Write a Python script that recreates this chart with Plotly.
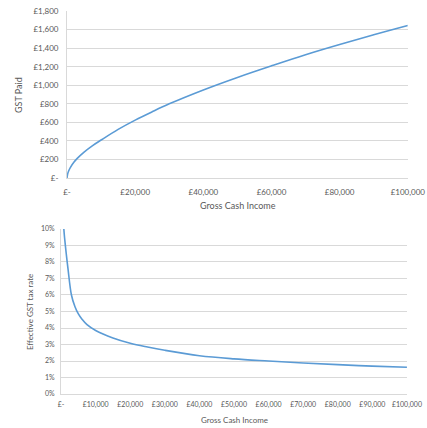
import plotly.graph_objects as go

# Top chart: GST paid vs gross cash income
income_top = [0, 200, 500, 1000, 2000, 3000, 5000, 7500, 10000, 15000, 20000, 25000, 30000,
              40000, 50000, 60000, 70000, 80000, 90000, 100000]
gst_paid = [0, 48, 79, 116, 170, 212, 280, 350, 410, 525, 625, 715, 800,
            950, 1085, 1210, 1330, 1440, 1545, 1645]

# Bottom chart: effective GST tax rate
income_bot = [800, 1000, 1500, 2000, 3000, 4000, 5000, 6000, 7500, 10000, 15000, 20000, 25000,
              30000, 40000, 50000, 60000, 70000, 80000, 90000, 100000]
eff_rate = [0.100, 0.095, 0.085, 0.076, 0.060, 0.053, 0.0485, 0.0455, 0.042, 0.0385, 0.034, 0.0308, 0.0285,
            0.0265, 0.0232, 0.0213, 0.0200, 0.0188, 0.0178, 0.0169, 0.0162]

top_x_ticks = [0, 20000, 40000, 60000, 80000, 100000]
top_x_labels = ["£-", "£20,000", "£40,000", "£60,000", "£80,000", "£100,000"]
top_y_ticks = [0, 200, 400, 600, 800, 1000, 1200, 1400, 1600, 1800]
top_y_labels = ["£-", "£200", "£400", "£600", "£800", "£1,000", "£1,200", "£1,400", "£1,600", "£1,800"]
bot_x_ticks = list(range(0, 100001, 10000))
bot_x_labels = ["£-", "£10,000", "£20,000", "£30,000", "£40,000", "£50,000", "£60,000",
                "£70,000", "£80,000", "£90,000", "£100,000"]
bot_y_ticks = [i / 100 for i in range(0, 11)]
bot_y_labels = [f"{i}%" for i in range(0, 11)]

LINE = "#5B9BD5"
GRID = "#D9D9D9"
TXT = "#595959"
FONT = "Lato, Carlito, Liberation Sans, sans-serif"

fig = go.Figure()
fig.add_trace(go.Scatter(x=income_top, y=gst_paid, mode="lines",
                         line=dict(color=LINE, width=1.6, shape="spline", smoothing=1.0),
                         xaxis="x", yaxis="y", showlegend=False))
fig.add_trace(go.Scatter(x=income_bot, y=eff_rate, mode="lines",
                         line=dict(color=LINE, width=1.6, shape="spline", smoothing=1.0),
                         xaxis="x2", yaxis="y2", showlegend=False))

ax_common = dict(showgrid=False, zeroline=False, showline=True, linecolor=GRID, linewidth=1,
                 ticks="", automargin=False, tickfont=dict(family=FONT, size=8, color=TXT))
fig.update_layout(
    width=427, height=428,
    margin=dict(l=0, r=0, t=0, b=0, autoexpand=False),
    paper_bgcolor="white", plot_bgcolor="white",
    font=dict(family=FONT, color=TXT),
    xaxis=dict(**ax_common, domain=[0.157, 0.955], range=[0, 100000], tickvals=top_x_ticks,
               ticktext=top_x_labels, anchor="y", ticklabelstandoff=6),
    yaxis=dict(**{**ax_common, "showgrid": True, "gridcolor": GRID}, domain=[0.584, 0.974],
               range=[0, 1800], tickvals=top_y_ticks, ticktext=top_y_labels, anchor="x",
               ticklabelstandoff=6),
    xaxis2=dict(**{**ax_common, "tickfont": dict(family=FONT, size=7, color=TXT)}, domain=[0.143, 0.953],
                range=[0, 100000], tickvals=bot_x_ticks, ticktext=bot_x_labels, anchor="y2",
                ticklabelstandoff=4),
    yaxis2=dict(**{**ax_common, "showgrid": True, "gridcolor": GRID, "tickfont": dict(family=FONT, size=7, color=TXT)},
                domain=[0.0794, 0.465], range=[0, 0.10], tickvals=bot_y_ticks, ticktext=bot_y_labels, anchor="x2",
                ticklabelstandoff=4),
    annotations=[
        dict(text="Gross Cash Income", x=238 / 427, y=1 - 205 / 428, xref="paper", yref="paper",
             xanchor="center", yanchor="middle",
             showarrow=False, font=dict(family=FONT, size=9, color=TXT)),
        dict(text="GST Paid", x=18 / 427, y=1 - 95 / 428, xref="paper", yref="paper", textangle=-90,
             xanchor="center", yanchor="middle",
             showarrow=False, font=dict(family=FONT, size=9, color=TXT)),
        dict(text="Gross Cash Income", x=234 / 427, y=1 - 420 / 428, xref="paper", yref="paper",
             xanchor="center", yanchor="middle",
             showarrow=False, font=dict(family=FONT, size=8, color=TXT)),
        dict(text="Effective GST tax rate", x=30 / 427, y=1 - 312 / 428, xref="paper", yref="paper",
             xanchor="center", yanchor="middle",
             textangle=-90, showarrow=False, font=dict(family=FONT, size=8, color=TXT)),
    ],
)

fig.write_html("out.html")
